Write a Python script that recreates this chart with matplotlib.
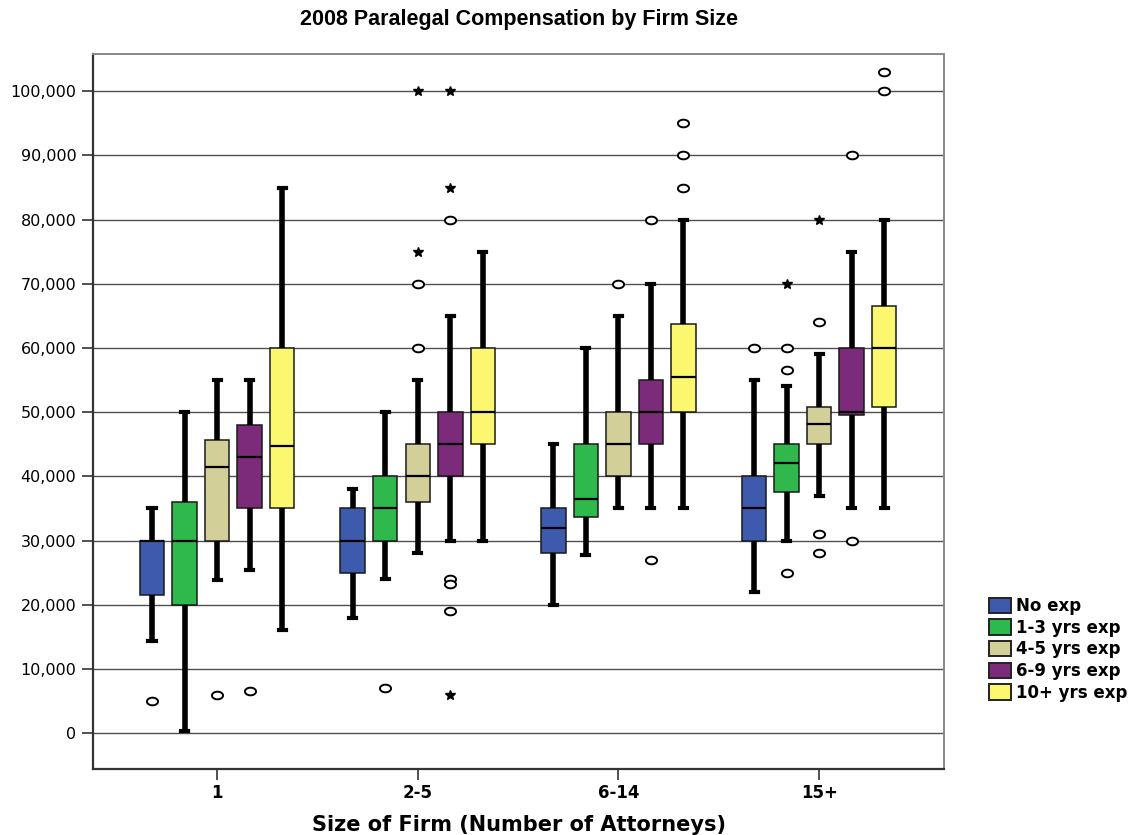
import matplotlib
matplotlib.use("Agg")
import matplotlib.pyplot as plt
import numpy as np
from matplotlib.path import Path
from matplotlib.patches import Patch
from matplotlib.ticker import FuncFormatter, MultipleLocator

plt.rcParams['font.family'] = ['DejaVu Sans']

firm_sizes = ["1", "2-5", "6-14", "15+"]
series_names = ["No exp", "1-3 yrs exp", "4-5 yrs exp", "6-9 yrs exp", "10+ yrs exp"]
series_colors = ["#3d5aad", "#2fb84b", "#d3cf98", "#7c2a7a", "#fbf86f"]

# Five-number summaries per experience level, one value per firm size
no_exp_whislo = [14300, 18000, 20000, 22000]
no_exp_q1 = [21500, 25000, 28000, 30000]
no_exp_med = [30000, 30000, 32000, 35000]
no_exp_q3 = [30000, 35000, 35000, 40000]
no_exp_whishi = [35000, 38000, 45000, 55000]
no_exp_outliers = [[5000], [], [], [60000]]
no_exp_extremes = [[], [], [], []]

exp13_whislo = [300, 24000, 27800, 30000]
exp13_q1 = [20000, 30000, 33700, 37500]
exp13_med = [30000, 35000, 36500, 42000]
exp13_q3 = [36000, 40000, 45000, 45000]
exp13_whishi = [50000, 50000, 60000, 54000]
exp13_outliers = [[], [7000], [], [60000, 56500, 25000]]
exp13_extremes = [[], [], [], [70000]]

exp45_whislo = [23800, 28000, 35000, 37000]
exp45_q1 = [30000, 36000, 40000, 45000]
exp45_med = [41500, 40000, 45000, 48200]
exp45_q3 = [45700, 45000, 50000, 50800]
exp45_whishi = [55000, 55000, 65000, 59000]
exp45_outliers = [[6000], [70000, 60000], [70000], [64000, 31000, 28000]]
exp45_extremes = [[], [100000, 75000], [], [80000]]

exp69_whislo = [25400, 30000, 35000, 35000]
exp69_q1 = [35000, 40000, 45000, 49600]
exp69_med = [43000, 45000, 50000, 50000]
exp69_q3 = [48000, 50000, 55000, 60000]
exp69_whishi = [55000, 65000, 70000, 75000]
exp69_outliers = [[6500], [80000, 24000, 23200, 19000], [80000, 27000], [90000, 30000]]
exp69_extremes = [[], [100000, 85000, 6000], [], []]

exp10_whislo = [16000, 30000, 35000, 35000]
exp10_q1 = [35000, 45000, 50000, 50800]
exp10_med = [44800, 50000, 55500, 60000]
exp10_q3 = [60000, 60000, 63700, 66500]
exp10_whishi = [85000, 75000, 80000, 80000]
exp10_outliers = [[], [], [95000, 90000, 85000], [103000, 100000]]
exp10_extremes = [[], [], [], []]

series = [
    (no_exp_whislo, no_exp_q1, no_exp_med, no_exp_q3, no_exp_whishi, no_exp_outliers, no_exp_extremes),
    (exp13_whislo, exp13_q1, exp13_med, exp13_q3, exp13_whishi, exp13_outliers, exp13_extremes),
    (exp45_whislo, exp45_q1, exp45_med, exp45_q3, exp45_whishi, exp45_outliers, exp45_extremes),
    (exp69_whislo, exp69_q1, exp69_med, exp69_q3, exp69_whishi, exp69_outliers, exp69_extremes),
    (exp10_whislo, exp10_q1, exp10_med, exp10_q3, exp10_whishi, exp10_outliers, exp10_extremes),
]

fig = plt.figure(figsize=(11.41, 8.35), dpi=100)
ax = fig.add_axes([93 / 1141, 1 - 769 / 835, (944 - 93) / 1141, (769 - 54) / 835])

# Open ellipse marker for outliers
theta = np.linspace(0, 2 * np.pi, 60)
ellipse = Path(np.column_stack([1.45 * np.cos(theta), np.sin(theta)]), closed=True)

offset_step = 0.162
box_w = 0.122
base = np.arange(len(firm_sizes))

for gy in range(0, 100001, 10000):
    ax.axhline(gy, color="#505050", lw=1.0, zorder=0)

for i, (wlo, q1, med, q3, whi, outl, extr) in enumerate(series):
    pos = base + (i - 2) * offset_step
    stats = []
    for k in range(len(firm_sizes)):
        stats.append(dict(whislo=wlo[k], q1=q1[k], med=med[k], q3=q3[k],
                          whishi=whi[k], fliers=outl[k]))
    ax.bxp(stats, positions=pos, widths=box_w, capwidths=0.035,
           patch_artist=True, manage_ticks=False,
           boxprops=dict(facecolor=series_colors[i], edgecolor="#1a1a1a", linewidth=1.1),
           medianprops=dict(color="black", linewidth=1.6),
           whiskerprops=dict(color="black", linewidth=4.0, solid_capstyle="butt"),
           capprops=dict(color="black", linewidth=3.0),
           flierprops=dict(marker=ellipse, markersize=8, markerfacecolor="white",
                           markeredgecolor="black", markeredgewidth=1.4, linestyle="none"),
           zorder=3)
    for k in range(len(firm_sizes)):
        if extr[k]:
            ax.plot([pos[k]] * len(extr[k]), extr[k], linestyle="none", marker="*",
                    markersize=7, color="black", zorder=4)

ax.set_xlim(-0.618, 3.622)
ax.set_ylim(-5600, 105800)
ax.set_xticks(base)
ax.set_xticklabels(firm_sizes, fontsize=12, fontweight="bold")
ax.yaxis.set_major_locator(MultipleLocator(10000))
ax.yaxis.set_major_formatter(FuncFormatter(lambda v, p: f"{int(v):,}"))
ax.tick_params(axis="y", labelsize=11.5, length=8, width=1.2, color="#333333",
               direction="out", pad=4)
ax.tick_params(axis="x", length=8, width=1.2, color="#333333", direction="out", pad=3)

for side in ["left", "bottom"]:
    ax.spines[side].set_color("#333333")
    ax.spines[side].set_linewidth(1.6)
for side in ["top", "right"]:
    ax.spines[side].set_color("#888888")
    ax.spines[side].set_linewidth(1.4)

ax.set_xlabel("Size of Firm (Number of Attorneys)", fontsize=15, fontweight="bold", labelpad=9)
ax.set_title("2008 Paralegal Compensation by Firm Size", fontsize=15.5,
             family="Liberation Sans", fontweight="semibold", pad=21)

handles = [Patch(facecolor=c, edgecolor="#222222", linewidth=1.4) for c in series_colors]
fig.legend(handles, series_names, loc="upper left", bbox_to_anchor=(989 / 1141, 1 - 597 / 835),
           frameon=False, prop=dict(weight="bold", size=12), handlelength=1.3,
           handleheight=1.05, handletextpad=0.3, labelspacing=0.22, borderaxespad=0,
           borderpad=0)

fig.savefig("out.png", dpi=100)
